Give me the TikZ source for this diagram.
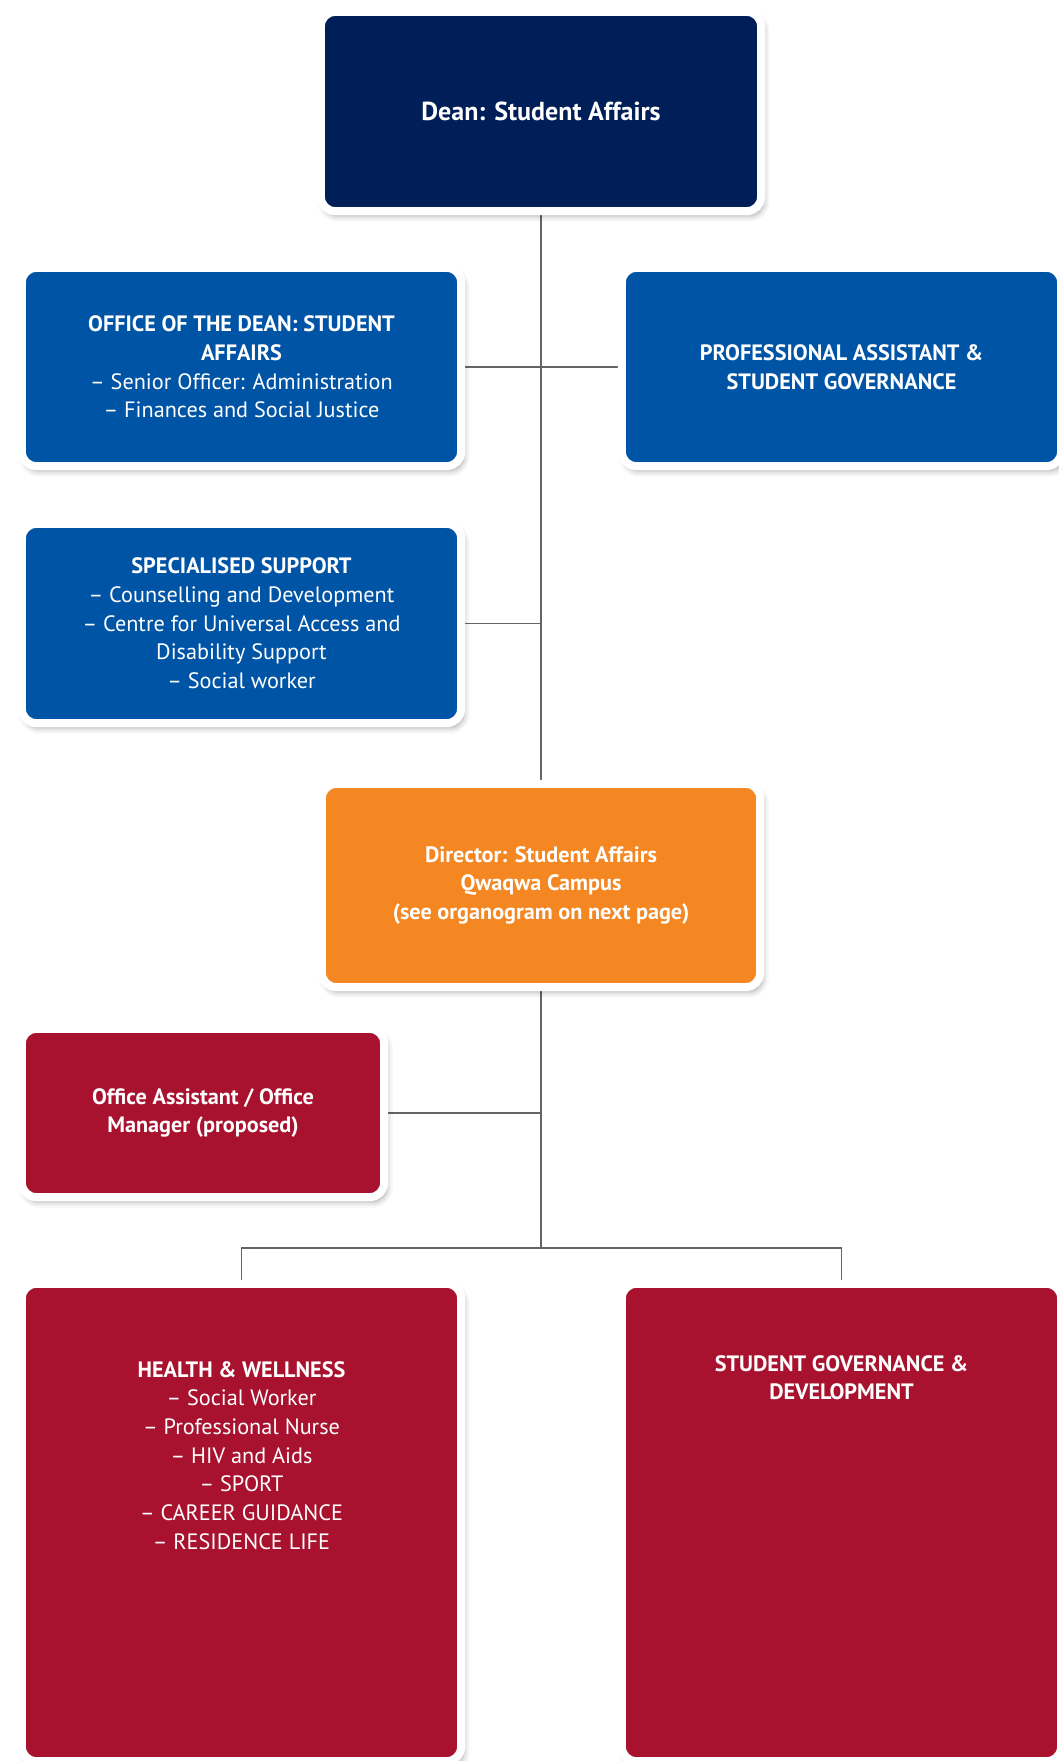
\documentclass[tikz,border=0pt]{standalone}
\usepackage{fontspec}
\setsansfont{PT Sans}
\definecolor{ufsnavy}{RGB}{0,30,87}
\definecolor{ufsblue}{RGB}{0,84,165}
\definecolor{ufsorange}{RGB}{245,135,35}
\definecolor{ufsred}{RGB}{168,18,46}
\definecolor{linkgray}{RGB}{100,100,100}
\tikzset{every picture/.style={/utils/exec={\sffamily}}}
\usetikzlibrary{backgrounds}
\usetikzlibrary{shadows.blur}
\tikzset{
  orgbox/.style={draw=white, line width=0.2cm, rounded corners=0.35cm, text=white, align=center,
    font=\fontsize{15.8}{20.4}\selectfont,
    blur shadow={shadow xshift=0.07cm, shadow yshift=-0.12cm, shadow blur radius=0.15cm, shadow opacity=35}},
  boxtext/.style={text=white, align=center, inner sep=0pt, font=\fontsize{15.8}{20.4}\selectfont},
  link/.style={draw=linkgray, line width=0.9pt}
}

\begin{document}
\begin{tikzpicture}[x=0.025cm, y=-0.025cm]
  \useasboundingbox (0,0) rectangle (1058,1761);

  \node[orgbox, fill=ufsnavy, minimum width=11cm, minimum height=4.975cm, font=\fontsize{18.5}{21}\selectfont] (dean) at (541,111.5) {\textbf{Dean: Student Affairs}};

  \node[orgbox, fill=ufsblue, minimum width=10.975cm, minimum height=4.95cm] (ofd) at (241.5,367) {\textbf{OFFICE OF THE DEAN: STUDENT}\\ \textbf{AFFAIRS}\\ – Senior Officer: Administration\\ – Finances and Social Justice};
  \node[orgbox, fill=ufsblue, minimum width=10.975cm, minimum height=4.95cm] (prof) at (841.5,367) {\textbf{PROFESSIONAL ASSISTANT \&}\\ \textbf{STUDENT GOVERNANCE}};

  \node[orgbox, fill=ufsblue, minimum width=10.975cm, minimum height=4.975cm] (spec) at (241.5,623.5) {\textbf{SPECIALISED SUPPORT}\\ – Counselling and Development\\ – Centre for Universal Access and\\ Disability Support\\ – Social worker};

  \node[orgbox, fill=ufsorange, minimum width=10.95cm, minimum height=5.075cm] (dir) at (541,885.5) {\textbf{Director: Student Affairs}\\ \textbf{Qwaqwa Campus}\\ \textbf{(see organogram on next page)}};

  \node[orgbox, fill=ufsred, minimum width=9.05cm, minimum height=4.2cm] (offa) at (203,1113) {\textbf{Office Assistant / Office}\\ \textbf{Manager (proposed)}};

  % bottom row, text sits near the top
  \node[orgbox, fill=ufsred, minimum width=10.975cm, minimum height=11.925cm] (hw) at (241.5,1522.5) {};
  \node[orgbox, fill=ufsred, minimum width=10.975cm, minimum height=11.925cm] (sgd) at (841.5,1522.5) {};
  \node[boxtext, anchor=north] (hwtext) at (241.5,1361) {\textbf{HEALTH \& WELLNESS}\\ – Social Worker\\ – Professional Nurse\\ – HIV and Aids\\ – SPORT\\ – CAREER GUIDANCE\\ – RESIDENCE LIFE};
  \node[boxtext, anchor=north] (sgdtext) at (841.5,1355) {\textbf{STUDENT GOVERNANCE \&}\\ \textbf{DEVELOPMENT}};

  \coordinate (bus) at (541,1248);

  \begin{scope}[on background layer]
    \draw[link] (dean) -- (dir);
    \draw[link] (ofd) -- (ofd -| dean);
    \draw[link] (prof) -- (prof -| dean);
    \draw[link] (spec) -- (spec -| dean);
    \draw[link] (offa) -- (offa -| dir);
    \draw[link] (dir) -- (bus);
    \draw[link] (hw) |- (bus) -| (sgd);
  \end{scope}

\end{tikzpicture}
\end{document}
